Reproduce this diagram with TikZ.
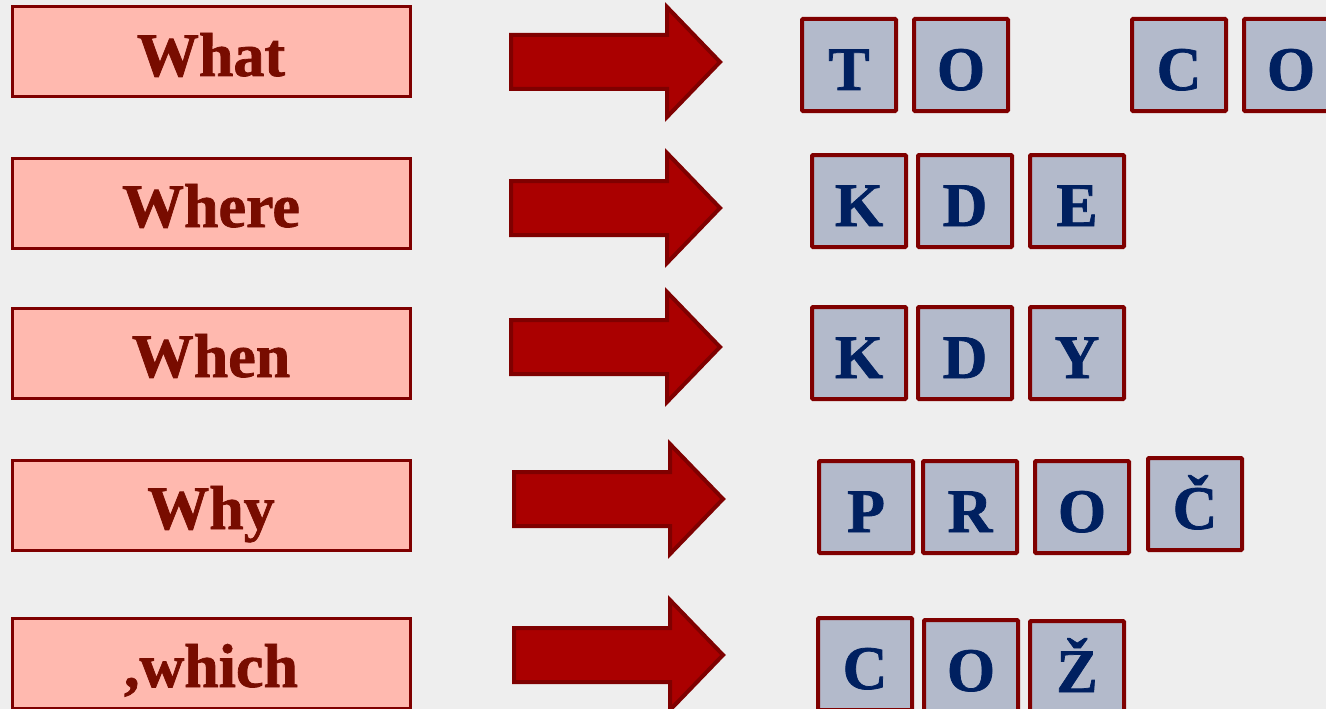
\documentclass[tikz,border=0pt]{standalone}
\usepackage{fontspec}
\setmainfont{Liberation Serif}[BoldFont={Liberation Serif Bold}]
\newfontfamily\heavyfont{Liberation Serif Bold}[FakeBold=1.2]
\definecolor{bgcol}{HTML}{EEEEEE}
\definecolor{boxred}{HTML}{7F0000}
\definecolor{boxpink}{HTML}{FFB9AF}
\definecolor{wordred}{HTML}{780C00}
\definecolor{arrowred}{HTML}{AA0000}
\definecolor{tilefill}{HTML}{B3BACB}
\definecolor{tilenavy}{HTML}{002060}
\tikzset{
  qbox/.style={draw=boxred, line width=3pt, fill=boxpink, minimum width=398pt,
    minimum height=90pt, inner sep=0pt, text=wordred,
    font=\heavyfont\fontsize{62}{70}\selectfont, text height=48pt, text depth=0pt},
  tile/.style={draw=boxred, line width=4pt, fill=tilefill, minimum width=94pt,
    minimum height=92pt, inner sep=0pt, rounded corners=1pt, text=tilenavy,
    font=\heavyfont\fontsize{62}{70}\selectfont, text height=50pt, text depth=0pt},
  arrowstyle/.style={draw=boxred, line width=4pt, fill=arrowred, line join=miter},
  bigarrow/.pic={\path[arrowstyle] (0,-27) -- (156,-27) -- (156,-55) -- (209,0)
    -- (156,55) -- (156,27) -- (0,27) -- cycle;}
}
\begin{document}
\begin{tikzpicture}[x=1pt,y=-1pt]
\fill[bgcol] (0,0) rectangle (1326,709);
\useasboundingbox (0,0) rectangle (1326,709);
% question words
\node[qbox] (what)  at (211,52)  {What};
\node[qbox] (where) at (211,203) {Where};
\node[qbox] (when)  at (211,353) {When};
\node[qbox] (why)   at (211,505) {Why};
\node[qbox] (which) at (211,663) {,which};
% arrows
\pic at (511,62)  {bigarrow};
\pic at (511,208) {bigarrow};
\pic at (511,347) {bigarrow};
\pic at (514,499) {bigarrow};
\pic at (514,655) {bigarrow};
% row 1: TO CO
\node[tile] (t1) at (849,65)  {T};
\node[tile] (o1) at (961,65)  {O};
\node[tile] (c1) at (1179,65) {C};
\node[tile] (o2) at (1291,65) {O};
% row 2: KDE
\node[tile] (k2) at (859,201) {K};
\node[tile] (d2) at (965,201) {D};
\node[tile] (e2) at (1077,201) {E};
% row 3: KDY
\node[tile] (k3) at (859,353) {K};
\node[tile] (d3) at (965,353) {D};
\node[tile] (y3) at (1077,353) {Y};
% row 4: PROČ
\node[tile] (p4) at (866,507) {P};
\node[tile] (r4) at (970,507) {R};
\node[tile] (o4) at (1082,507) {O};
\node[tile] (c4) at (1195,504) {Č};
% row 5: COŽ
\node[tile] (c5) at (865,664) {C};
\node[tile] (o5) at (971,666) {O};
\node[tile] (z5) at (1077,667) {Ž};
\end{tikzpicture}
\end{document}
